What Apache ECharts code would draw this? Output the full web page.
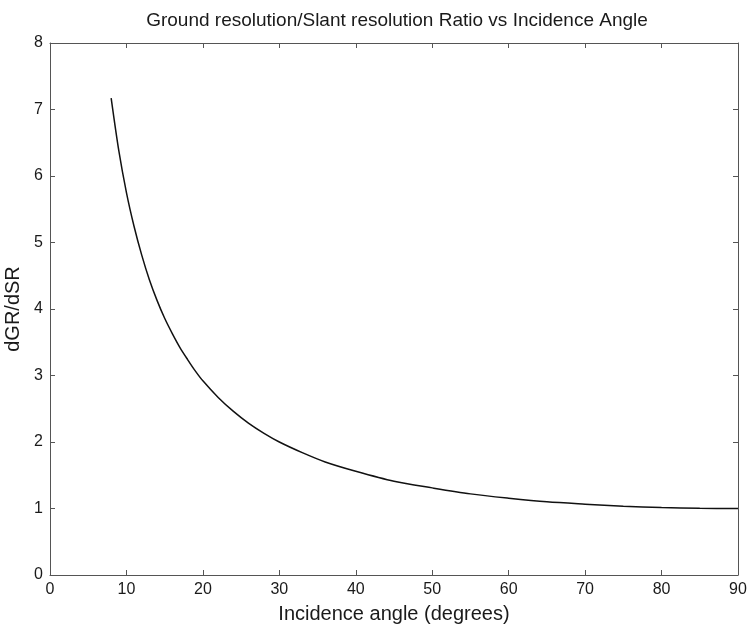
<!DOCTYPE html>
<html>
<head>
<meta charset="utf-8">
<script src="https://cdn.jsdelivr.net/npm/echarts@6/dist/echarts.min.js"></script>
<style>
  html, body { margin: 0; padding: 0; background: #fff; }
  #chart { width: 750px; height: 629px; }
</style>
</head>
<body>
<div id="chart"></div>
<script>
// Incidence angle (degrees) and the ground/slant resolution ratio at each angle
const angles = [8, 9, 10, 11, 12, 13, 14, 15, 16, 17, 18, 19, 20, 22, 24, 26, 28, 30, 33, 36, 40, 45, 50, 55, 60, 65, 70, 75, 80, 85, 90];
const ratio = [7.17, 6.38, 5.75, 5.24, 4.81, 4.44, 4.13, 3.86, 3.63, 3.42, 3.24, 3.07, 2.92, 2.67, 2.46, 2.28, 2.13, 2.00, 1.84, 1.70, 1.56, 1.41, 1.31, 1.22, 1.155, 1.10, 1.065, 1.035, 1.015, 1.004, 1.0];

const points = angles.map((a, i) => [a, ratio[i]]);

const font = 'Liberation Sans, Arial, sans-serif';
const axisColor = '#555';
const textColor = '#1a1a1a';

const chart = echarts.init(document.getElementById('chart'), null, { renderer: 'canvas' });

const baseAxis = {
  axisLine: { show: true, onZero: false, lineStyle: { color: axisColor, width: 1 } },
  axisTick: { show: true, inside: true, length: 5, lineStyle: { color: axisColor } },
  splitLine: { show: false }
};

chart.setOption({
  animation: false,
  backgroundColor: '#fff',
  title: {
    text: 'Ground resolution/Slant resolution Ratio vs Incidence Angle',
    left: 392, top: 6, textAlign: 'center',
    textStyle: { fontFamily: font, fontSize: 19, fontWeight: 'normal', color: textColor }
  },
  grid: { left: 50, right: 12, top: 43, bottom: 54, containLabel: false, outerBoundsMode: 'none' },
  xAxis: [
    Object.assign({}, baseAxis, {
      type: 'value', min: 0, max: 90, interval: 10, position: 'bottom',
      name: 'Incidence angle (degrees)', nameLocation: 'middle', nameGap: 29,
      nameTextStyle: { fontFamily: font, fontSize: 20, color: textColor },
      axisLabel: { fontFamily: font, fontSize: 16, color: textColor, margin: 7 }
    }),
    Object.assign({}, baseAxis, {
      type: 'value', min: 0, max: 90, interval: 10, position: 'top',
      axisLabel: { show: false }
    })
  ],
  yAxis: [
    Object.assign({}, baseAxis, {
      type: 'value', min: 0, max: 8, interval: 1, position: 'left',
      name: 'dGR/dSR', nameLocation: 'middle', nameGap: 25, nameRotate: 90,
      nameTextStyle: { fontFamily: font, fontSize: 20, color: textColor },
      axisLabel: { fontFamily: font, fontSize: 16, color: textColor, margin: 7 }
    }),
    Object.assign({}, baseAxis, {
      type: 'value', min: 0, max: 8, interval: 1, position: 'right',
      axisLabel: { show: false }
    })
  ],
  series: [{
    type: 'line',
    data: points,
    smooth: 0.3,
    showSymbol: false,
    lineStyle: { color: '#111', width: 1.5 }
  }]
});
</script>
</body>
</html>
